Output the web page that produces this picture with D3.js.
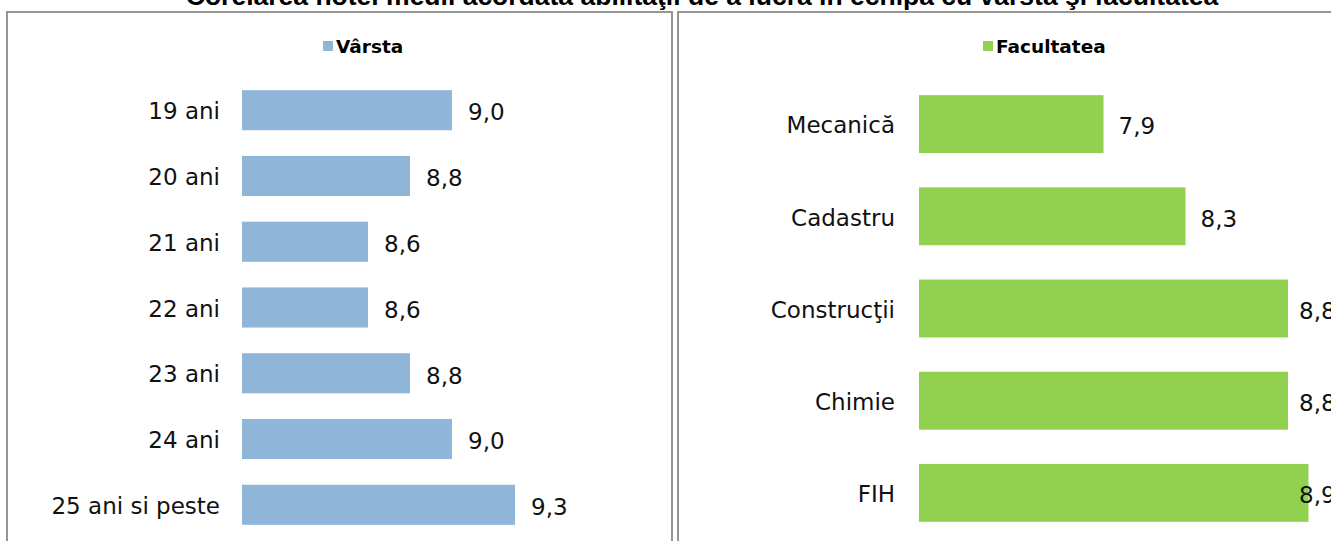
<!DOCTYPE html>
<html>
<head>
<meta charset="utf-8">
<script src="https://cdn.jsdelivr.net/npm/d3@7"></script>
<style>
    body { margin: 0; background: #fff; overflow: hidden; }
    svg { display: block; }
</style>
</head>
<body>
<div id="chart"></div>
<script>
const titleText = "Corelarea notei medii acordată abilităţii de a lucra în echipă cu vârsta şi facultatea";

const ageCategories = ["19 ani", "20 ani", "21 ani", "22 ani", "23 ani", "24 ani", "25 ani si peste"];
const ageValues = [9.0, 8.8, 8.6, 8.6, 8.8, 9.0, 9.3];
const ageLegend = "Vârsta";

const facultyCategories = ["Mecanică", "Cadastru", "Construcţii", "Chimie", "FIH"];
const facultyValues = [7.9, 8.3, 8.8, 8.8, 8.9];
const facultyLegend = "Facultatea";

const W = 1331;
const H = 541;
const labelFont = "'DejaVu Sans', sans-serif";

const svg = d3
    .select("#chart")
    .append("svg")
    .attr("width", W)
    .attr("height", H);

// title (cut off at the top in the original)
svg
    .append("text")
    .text(titleText)
    .attr("x", 702)
    .attr("y", 5)
    .attr("text-anchor", "middle")
    .attr("font-family", "'Liberation Sans', Arial, sans-serif")
    .attr("font-weight", "bold")
    .attr("font-size", 26.5)
    .attr("fill", "#000");

function createPanel(cfg) {
    const g = svg.append("g");

    // panel frame
    g
        .append("rect")
        .attr("x", cfg.frame[0])
        .attr("y", 12)
        .attr("width", cfg.frame[1] - cfg.frame[0])
        .attr("height", H + 20)
        .attr("fill", "none")
        .attr("stroke", "#8a8a8a")
        .attr("stroke-width", 1.8);

    const x = d3.scaleLinear()
        .domain(cfg.domain)
        .range(cfg.xRange);

    const y = d3
        .scaleBand()
        .domain(cfg.categories)
        .range(cfg.yRange)
        .paddingInner(cfg.padInner)
        .paddingOuter(cfg.padOuter);

    const data = cfg.categories.map((c, i) => ({ name: c, value: cfg.values[i] }));

    // legend
    const legend = g
        .append("g")
        .attr("transform", "translate(" + cfg.legendX + ",46)");
    legend
        .append("rect")
        .attr("x", 0)
        .attr("y", -5)
        .attr("width", 10)
        .attr("height", 10)
        .attr("fill", cfg.color);
    legend
        .append("text")
        .text(cfg.legend)
        .attr("x", 13)
        .attr("dy", "0.36em")
        .attr("font-family", labelFont)
        .attr("font-weight", "bold")
        .attr("font-size", 18.5)
        .attr("fill", "#000");

    // bars
    g
        .append("g")
        .selectAll("rect")
        .data(data)
        .join("rect")
        .attr("x", x(cfg.domain[0]))
        .attr("y", d => y(d.name))
        .attr("width", d => x(d.value) - x(cfg.domain[0]))
        .attr("height", y.bandwidth())
        .attr("fill", cfg.color);

    // category axis
    const yAxis = d3
        .axisLeft()
        .scale(y)
        .tickSize(0)
        .tickPadding(cfg.axisGap);

    g
        .append("g")
        .attr("transform", "translate(" + x(cfg.domain[0]) + ",0)")
        .call(yAxis)
        .call(a => a.select(".domain").remove())
        .selectAll("text")
        .attr("dy", "0.4em")
        .attr("font-family", labelFont)
        .attr("font-size", 23)
        .attr("fill", "#111");

    // value labels
    g
        .append("g")
        .selectAll("text")
        .data(data)
        .join("text")
        .text(d => d3.format(".1f")(d.value).replace(".", ","))
        .attr("x", d => Math.min(x(d.value) + cfg.labelGap, cfg.labelMax))
        .attr("y", d => y(d.name) + y.bandwidth() / 2 + 2)
        .attr("dy", "0.36em")
        .attr("font-family", labelFont)
        .attr("font-size", 23)
        .attr("fill", "#111");
}

createPanel({
    categories: ageCategories,
    values: ageValues,
    legend: ageLegend,
    color: "#8fb6d9",
    frame: [7, 672],
    domain: [8, 10],
    xRange: [242, 662],
    yRange: [77, 538],
    padInner: 0.39,
    padOuter: 0.2,
    legendX: 323,
    axisGap: 22,
    labelGap: 16,
    labelMax: 660
});

createPanel({
    categories: facultyCategories,
    values: facultyValues,
    legend: facultyLegend,
    color: "#92d050",
    frame: [678, 1345],
    domain: [7, 9],
    xRange: [919, 1329],
    yRange: [78, 539],
    padInner: 0.372,
    padOuter: 0.186,
    legendX: 983,
    axisGap: 24,
    labelGap: 15,
    labelMax: 1299
});
</script>
</body>
</html>
